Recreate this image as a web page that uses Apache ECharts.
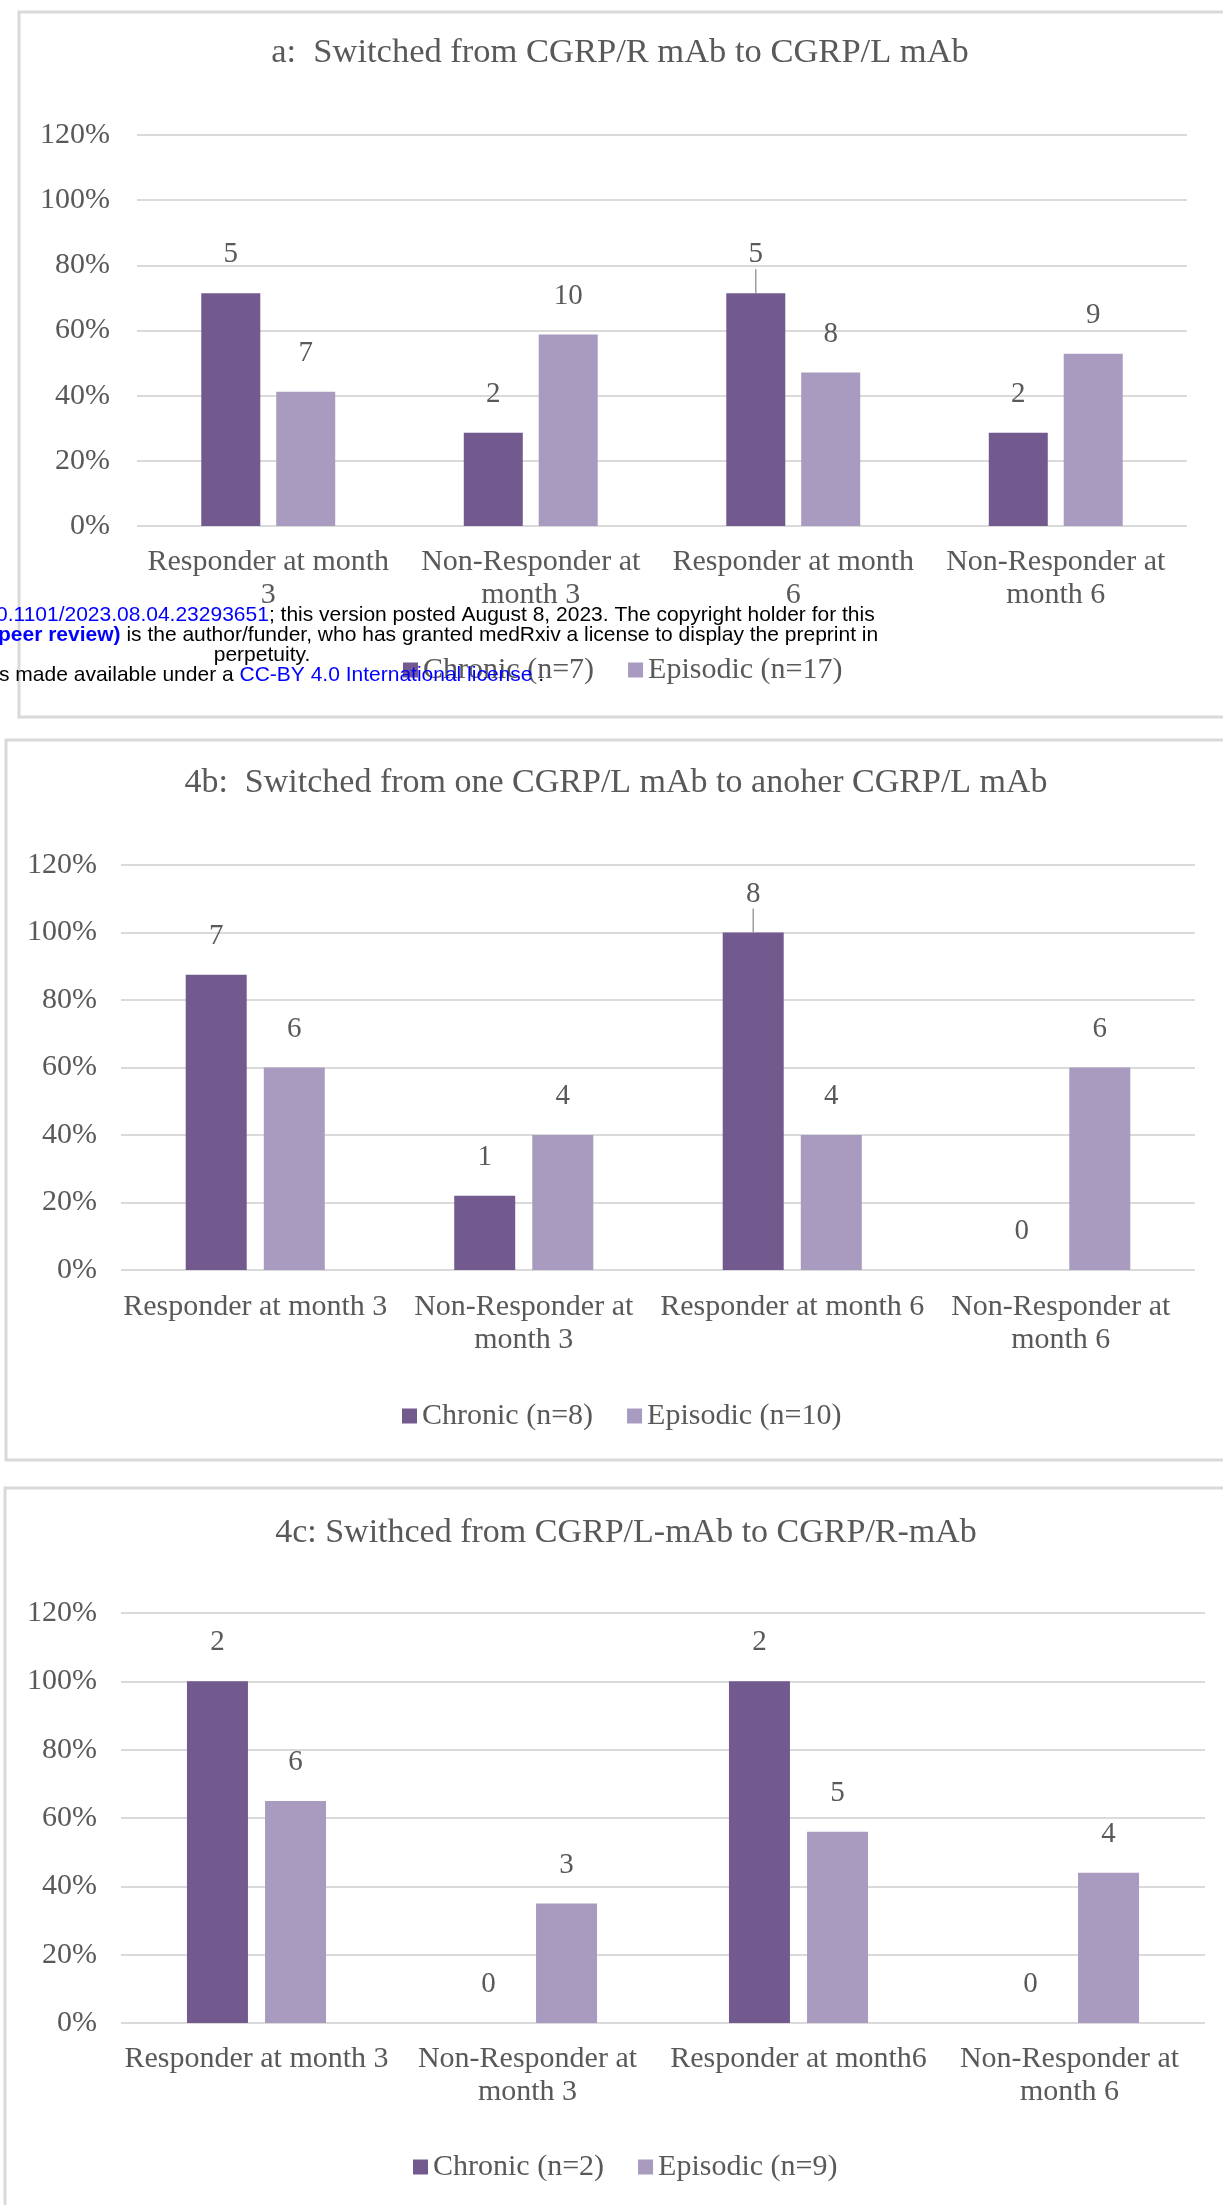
<!DOCTYPE html>
<html>
<head>
<meta charset="utf-8">
<script src="https://cdn.jsdelivr.net/npm/echarts@6/dist/echarts.min.js"></script>
<style>
html,body{margin:0;padding:0;background:#fff;}
#main{width:1223px;height:2205px;}
</style>
</head>
<body>
<div id="main"></div>
<script>
// ---- data ----
const titles = [
  'a:  Switched from CGRP/R mAb to CGRP/L mAb',
  '4b:  Switched from one CGRP/L mAb to anoher CGRP/L mAb',
  '4c: Swithced from CGRP/L-mAb to CGRP/R-mAb'
];
const categoriesA = ['Responder at month\n3', 'Non-Responder at\nmonth 3', 'Responder at month\n6', 'Non-Responder at\nmonth 6'];
const categoriesB = ['Responder at month 3', 'Non-Responder at\nmonth 3', 'Responder at month 6', 'Non-Responder at\nmonth 6'];
const categoriesC = ['Responder at month 3', 'Non-Responder at\nmonth 3', 'Responder at month6', 'Non-Responder at\nmonth 6'];

const chronicNameA = 'Chronic (n=7)', episodicNameA = 'Episodic (n=17)';
const chronicNameB = 'Chronic (n=8)', episodicNameB = 'Episodic (n=10)';
const chronicNameC = 'Chronic (n=2)', episodicNameC = 'Episodic (n=9)';

// percentages (bar heights)
const chronicPctA = [71.4, 28.6, 71.4, 28.6];
const episodicPctA = [41.2, 58.8, 47.1, 52.9];
const chronicPctB = [87.5, 22, 100, 0];
const episodicPctB = [60, 40, 40, 60];
const chronicPctC = [100, 0, 100, 0];
const episodicPctC = [65, 35, 56, 44];

// counts (bar labels)
const chronicCountA = [5, 2, 5, 2];
const episodicCountA = [7, 10, 8, 9];
const chronicCountB = [7, 1, 8, 0];
const episodicCountB = [6, 4, 4, 6];
const chronicCountC = [2, 0, 2, 0];
const episodicCountC = [6, 3, 5, 4];

// labels that have a guide line down to the bar in the original
const leaderA = [false, false, true, false];
const leaderB = [false, false, true, false];
const leaderC = [false, false, false, false];

const yTicks = [0, 20, 40, 60, 80, 100, 120];

// ---- styling ----
const SERIF = '"Liberation Serif","Times New Roman",serif';
const SANS = '"Liberation Sans",Arial,sans-serif';
const TXT = '#595959';
const C_CHRONIC = '#725a8f';
const C_EPISODIC = '#a99abf';
const GRIDC = '#dadada';
const LABEL_DIST = 24;

const panels = [
  {cats: categoriesA, cn: chronicNameA, en: episodicNameA, cp: chronicPctA, ep: episodicPctA, cc: chronicCountA, ec: episodicCountA, lead: leaderA,
   grid: {left: 137, top: 135, width: 1050, height: 391}, yMargin: 27, xMargin: 20, barW: 59, barGap: '27%',
   title: {x: 620, top: 33}, legend: {left: 403, top: 655}},
  {cats: categoriesB, cn: chronicNameB, en: episodicNameB, cp: chronicPctB, ep: episodicPctB, cc: chronicCountB, ec: episodicCountB, lead: leaderB,
   grid: {left: 121, top: 865, width: 1074, height: 405}, yMargin: 24, xMargin: 21, barW: 61, barGap: '28%',
   title: {x: 616, top: 763}, legend: {left: 402, top: 1401}},
  {cats: categoriesC, cn: chronicNameC, en: episodicNameC, cp: chronicPctC, ep: episodicPctC, cc: chronicCountC, ec: episodicCountC, lead: leaderC,
   grid: {left: 121, top: 1613, width: 1084, height: 410}, yMargin: 24, xMargin: 20, barW: 61, barGap: '28%',
   title: {x: 626, top: 1513}, legend: {left: 413, top: 2152}}
];

const option = {
  animation: false,
  backgroundColor: '#fff',
  title: [], legend: [], grid: [], xAxis: [], yAxis: [], series: [],
  graphic: []
};

// panel borders
const borders = [
  {x: 19, y: 12, w: 1400, h: 705},
  {x: 6, y: 740, w: 1400, h: 720},
  {x: 5, y: 1488, w: 1400, h: 900}
];
borders.forEach(b => option.graphic.push({
  type: 'rect', z: -10, silent: true,
  shape: {x: b.x, y: b.y, width: b.w, height: b.h},
  style: {fill: 'none', stroke: '#d9d9d9', lineWidth: 3}
}));

function barData(pcts, leads) {
  // items with a guide line: label sits directly on the bar, line drawn as part of the label
  return pcts.map((v, i) => leads[i] ? {value: v, label: {distance: 0}} : v);
}

panels.forEach((p, k) => {
  option.title.push({
    text: titles[k], left: p.title.x, top: p.title.top, textAlign: 'center', padding: 0,
    textStyle: {fontFamily: SERIF, fontSize: k === 0 ? 34.5 : 34, fontWeight: 'normal', color: TXT, lineHeight: 40}
  });
  option.legend.push({
    data: [p.cn, p.en], left: p.legend.left, top: p.legend.top, padding: 0,
    icon: 'rect', itemWidth: 15, itemHeight: 15, itemGap: 34,
    textStyle: {fontFamily: SERIF, fontSize: 30, color: TXT, lineHeight: 30}
  });
  option.grid.push(Object.assign({containLabel: false}, p.grid));
  option.xAxis.push({
    type: 'category', gridIndex: k, data: p.cats,
    axisLine: {show: false}, axisTick: {show: false},
    axisLabel: {interval: 0, margin: p.xMargin, fontFamily: SERIF, fontSize: 30, lineHeight: 33, color: TXT}
  });
  option.yAxis.push({
    type: 'value', gridIndex: k, min: yTicks[0], max: yTicks[yTicks.length - 1], interval: yTicks[1] - yTicks[0],
    axisLine: {show: false}, axisTick: {show: false},
    axisLabel: {margin: p.yMargin, fontFamily: SERIF, fontSize: 30, color: TXT, formatter: '{value}%'},
    splitLine: {lineStyle: {color: GRIDC, width: 2}}
  });
  const mk = (name, color, pcts, counts, withLead) => ({
    type: 'bar', name: name, xAxisIndex: k, yAxisIndex: k,
    data: withLead ? barData(pcts, p.lead) : pcts.slice(), barWidth: p.barW, barGap: p.barGap,
    itemStyle: {color: color},
    label: {show: true, position: 'top', distance: LABEL_DIST, fontFamily: SERIF, fontSize: 29, lineHeight: 29, color: TXT,
      rich: {ln: {width: 1.3, height: LABEL_DIST, lineHeight: LABEL_DIST, backgroundColor: '#8f8f8f'}},
      formatter: (prm) => withLead && p.lead[prm.dataIndex]
        ? String(counts[prm.dataIndex]) + '\n{ln| }'
        : String(counts[prm.dataIndex])}
  });
  option.series.push(mk(p.cn, C_CHRONIC, p.cp, p.cc, true));
  option.series.push(mk(p.en, C_EPISODIC, p.ep, p.ec, false));
});

// medRxiv overlay text
const WF = 21;
const wmRich = {
  b: {fill: '#0000ff', fontFamily: SANS, fontSize: WF},
  bb: {fill: '#0000ff', fontFamily: SANS, fontSize: WF, fontWeight: 'bold'},
  k: {fill: '#000000', fontFamily: SANS, fontSize: WF}
};
const wmLines = [
  {x: -4, y: 615, align: 'left', text: '{b|0.1101/2023.08.04.23293651}{k|; this version posted August 8, 2023. The copyright holder for this}'},
  {x: -2, y: 635, align: 'left', text: '{bb|peer review)}{k| is the author/funder, who has granted medRxiv a license to display the preprint in}'},
  {x: 262, y: 655, align: 'center', text: '{k|perpetuity.}'},
  {x: -1, y: 675, align: 'left', text: '{k|s made available under a }{b|CC-BY 4.0 International license}{k| .}'}
];
wmLines.forEach(l => option.graphic.push({
  type: 'text', z: 100, silent: true, x: l.x, y: l.y,
  style: {text: l.text, rich: wmRich, align: l.align, verticalAlign: 'middle', fontFamily: SANS, fontSize: WF}
}));

const chart = echarts.init(document.getElementById('main'), null, {renderer: 'canvas'});
chart.setOption(option);
</script>
</body>
</html>
